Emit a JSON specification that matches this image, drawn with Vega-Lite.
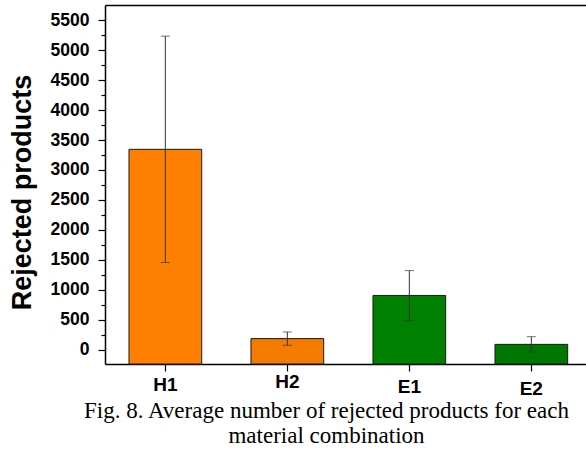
{
  "$schema": "https://vega.github.io/schema/vega-lite/v6.json",
  "width": 481,
  "height": 359,
  "autosize": {"type": "none"},
  "padding": {"left": 105, "top": 5, "right": 0, "bottom": 88},
  "background": "white",
  "config": {"view": {"stroke": null}},
  "data": {
    "values": [
      {"combo": "H1", "mean": 3345, "lo": 1455, "hi": 5235},
      {"combo": "H2", "mean": 184, "lo": 73, "hi": 295},
      {"combo": "E1", "mean": 905, "lo": 485, "hi": 1320},
      {"combo": "E2", "mean": 88, "lo": -40, "hi": 216}
    ]
  },
  "title": {
    "text": ["Fig. 8. Average number of rejected products for each", "material combination"],
    "orient": "bottom",
    "font": "Liberation Serif",
    "fontSize": 23,
    "fontWeight": "normal",
    "color": "black",
    "anchor": "middle",
    "dx": -19,
    "offset": 2,
    "lineHeight": 25
  },
  "resolve": {"axis": {"x": "independent", "y": "independent"}},
  "layer": [
    {
      "mark": {"type": "bar", "stroke": "#1a1a1a", "strokeWidth": 1},
      "encoding": {
        "x": {
          "field": "combo",
          "type": "nominal",
          "sort": ["H1", "H2", "E1", "E2"],
          "scale": {"type": "band", "paddingInner": 0.404, "paddingOuter": 0.1734, "align": 0.567},
          "axis": {
            "orient": "bottom",
            "title": null,
            "labelAngle": 0,
            "labelFont": "Liberation Sans",
            "labelFontWeight": "bold",
            "labelFontSize": 19,
            "labelColor": "black",
            "labelPadding": {
              "condition": [
                {"test": "datum.value === 'H2'", "value": 1},
                {"test": "datum.value === 'E1'", "value": 6},
                {"test": "datum.value === 'E2'", "value": 8}
              ],
              "value": 4
            },
            "tickSize": 7,
            "tickColor": "black",
            "tickWidth": 1.2,
            "domainColor": "black",
            "domainWidth": 1.5,
            "grid": false
          }
        },
        "y": {
          "field": "mean",
          "type": "quantitative",
          "scale": {"domain": [-240, 5755], "nice": false, "zero": false},
          "axis": {
            "orient": "left",
            "values": [0, 250, 500, 750, 1000, 1250, 1500, 1750, 2000, 2250, 2500, 2750, 3000, 3250, 3500, 3750, 4000, 4250, 4500, 4750, 5000, 5250, 5500],
            "format": "d",
            "labelExpr": "datum.value % 500 === 0 ? datum.label : ''",
            "tickSize": {"condition": {"test": "datum.value % 500 === 0", "value": 7}, "value": 4},
            "tickColor": "black",
            "tickWidth": 1.2,
            "labelFont": "Liberation Sans",
            "labelFontWeight": "bold",
            "labelFontSize": 17.5,
            "labelColor": "black",
            "labelPadding": 9,
            "domainColor": "black",
            "domainWidth": 1.5,
            "grid": false,
            "title": "Rejected products",
            "titleFont": "Liberation Sans",
            "titleFontSize": 27,
            "titleFontWeight": "bold",
            "titleColor": "black",
            "titleAngle": -90,
            "titleBaseline": "middle",
            "titleAlign": "center",
            "titleX": -83,
            "titleY": 187
          }
        },
        "y2": {"datum": -240},
        "color": {
          "field": "combo",
          "type": "nominal",
          "scale": {"domain": ["H1", "H2", "E1", "E2"], "range": ["#ff8000", "#f47a00", "#008000", "#007800"]},
          "legend": null
        }
      }
    },
    {
      "mark": {"type": "rule", "color": "#333333", "strokeWidth": 1},
      "encoding": {
        "x": {"field": "combo", "type": "nominal", "sort": ["H1", "H2", "E1", "E2"], "axis": null},
        "y": {"field": "lo", "type": "quantitative", "axis": null},
        "y2": {"field": "hi"}
      }
    },
    {
      "mark": {"type": "tick", "orient": "horizontal", "size": 9, "thickness": 1, "color": "#333333"},
      "encoding": {
        "x": {"field": "combo", "type": "nominal", "sort": ["H1", "H2", "E1", "E2"], "axis": null},
        "y": {"field": "hi", "type": "quantitative", "axis": null}
      }
    },
    {
      "mark": {"type": "tick", "orient": "horizontal", "size": 9, "thickness": 1, "color": "#333333"},
      "encoding": {
        "x": {
          "field": "combo",
          "type": "nominal",
          "sort": ["H1", "H2", "E1", "E2"],
          "axis": {"orient": "top", "labels": false, "ticks": false, "title": null, "domainColor": "black", "domainWidth": 1.5, "grid": false}
        },
        "y": {"field": "lo", "type": "quantitative", "axis": null}
      }
    }
  ]
}
